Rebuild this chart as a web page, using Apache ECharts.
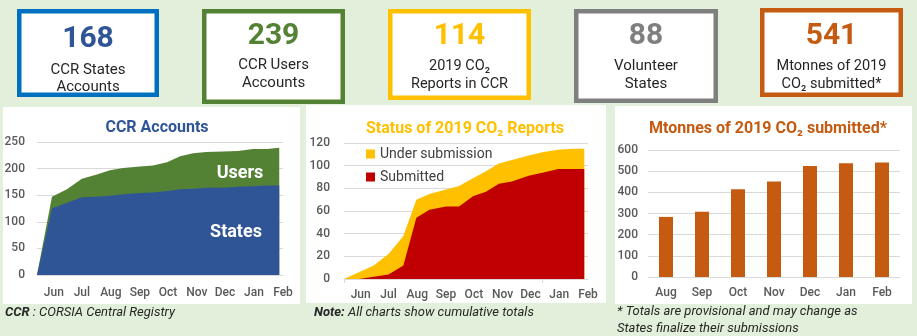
<!DOCTYPE html>
<html><head><meta charset="utf-8">
<script src="https://cdn.jsdelivr.net/npm/echarts@6/dist/echarts.min.js"></script>
<style>html,body{margin:0;padding:0;background:#e2efda}#c{width:917px;height:336px}</style>
</head><body><div id="c"></div>
<script>
// ---- data ----
const kpiValues = ['168', '239', '114', '88', '541'];
const kpiLine1 = ['CCR States', 'CCR Users', '2019 CO\u2082', 'Volunteer', 'Mtonnes of 2019'];
const kpiLine2 = ['Accounts', 'Accounts', 'Reports in CCR', 'States', 'CO\u2082 submitted*'];

const dates = ['2020-05-14','2020-05-30','2020-06-15','2020-07-01','2020-07-17','2020-07-31','2020-08-14',
  '2020-09-01','2020-09-15','2020-09-30','2020-10-14','2020-10-28','2020-11-11','2020-11-29',
  '2020-12-15','2020-12-31','2021-01-15','2021-01-28'];
const usersAccounts  = [0,147,161,181,189,197,201,204,206,212,223,229,231,232,233,237,237,239];
const statesAccounts = [0,125,136,146,147,149,152,154,155,158,161,162,164,164,166,167,168,168];
const underSubmission = [0,6,12,22,38,70,75,79,82,89,95,102,105,109,112,114,115,115];
const submitted       = [0,0,2,4,12,54,61,64,64,73,77,84,86,91,94,97,97,97];

const monthTicks = ['2020-06-01','2020-07-01','2020-08-01','2020-09-01','2020-10-01','2020-11-01','2020-12-01','2021-01-01','2021-02-01'];
const monthNames = ['Jan','Feb','Mar','Apr','May','Jun','Jul','Aug','Sep','Oct','Nov','Dec'];
const axisStart = '2020-05-14', axisEnd = '2021-02-01';
const reportTicks = ['2020-05-14','2020-12-14'];

const barMonths = ['Aug','Sep','Oct','Nov','Dec','Jan','Feb'];
const mtonnes = [284, 308, 415, 451, 525, 537, 541];

// ---- chart ----
const DAY = 86400000;
const ts = s => { const [y,m,d] = s.split('-').map(Number); return Date.UTC(y, m-1, d) / DAY; };
const pairs = (xs, ys) => xs.map((x,i)=>[ts(x), ys[i]]);
const FONT = 'Roboto';
const labelStyle = {color:'#595959', fontSize:12, fontWeight:500, fontFamily:FONT};
const grid = '#d9d9d9';

function timeAxis(gi, ticks, margin){
  return {type:'value', gridIndex:gi, min:ts(axisStart), max:ts(axisEnd),
    axisLine:{show:true, onZero:false, lineStyle:{color:grid}},
    axisTick: ticks ? {show:true, customValues:ticks.map(ts), length:4, lineStyle:{color:grid}} : {show:false},
    splitLine:{show:false},
    axisLabel:Object.assign({customValues:monthTicks.map(ts), margin:margin, hideOverlap:false,
      formatter:v=>monthNames[new Date(Math.round(v)*DAY).getUTCMonth()]}, labelStyle)};
}
function valAxis(gi, max, interval, margin){
  return {type:'value', gridIndex:gi, min:0, max:max, interval:interval,
    axisLine:{show:false}, axisTick:{show:false},
    splitLine:{lineStyle:{color:grid, width:1}},
    axisLabel:Object.assign({margin:margin}, labelStyle)};
}

const boxes = [
  {x:17, y:9, w:142, h:88, c:'#0070c0', nc:'#2f5597', ny:39, l1:70, l2:87, fs:15},
  {x:202, y:9, w:143, h:95, c:'#548235', nc:'#548235', ny:36, l1:65, l2:83, fs:15},
  {x:388, y:9, w:143, h:91, c:'#ffc000', nc:'#ffc000', ny:36, l1:66, l2:84, fs:14.5},
  {x:574, y:9, w:144, h:94, c:'#7f7f7f', nc:'#7f7f7f', ny:36, l1:66, l2:84, fs:15},
  {x:760, y:8, w:143, h:89, c:'#c55a11', nc:'#c55a11', ny:36, l1:66, l2:84, fs:14.5}
];
const graphic = [];
// panels
[[3,107,297,197],[306,105,300,198],[615,106,297,198]].forEach(p=>{
  graphic.push({type:'rect', z:-10, shape:{x:p[0], y:p[1], width:p[2], height:p[3]}, style:{fill:'#ffffff'}, silent:true});
});
boxes.forEach((b,i)=>{
  const lw = 4.5;
  graphic.push({type:'rect', shape:{x:b.x+lw/2, y:b.y+lw/2, width:b.w-lw, height:b.h-lw},
    style:{fill:'#ffffff', stroke:b.c, lineWidth:lw}, silent:true});
  const cx = b.x + b.w/2;
  graphic.push({type:'text', x:cx, y:b.ny, style:{text:kpiValues[i], align:'center', verticalAlign:'middle',
    fontSize:30, fontWeight:'bold', fontFamily:FONT, fill:b.nc}, silent:true});
  graphic.push({type:'text', x:cx, y:b.l1, style:{text:kpiLine1[i], align:'center', verticalAlign:'middle',
    fontSize:b.fs, fontFamily:FONT, fill:'#262626'}, silent:true});
  graphic.push({type:'text', x:cx, y:b.l2, style:{text:kpiLine2[i], align:'center', verticalAlign:'middle',
    fontSize:b.fs, fontFamily:FONT, fill:'#262626'}, silent:true});
});
// in-chart labels
graphic.push({type:'text', x:240, y:173, z:10, style:{text:'Users', align:'center', verticalAlign:'middle', fontSize:18, fontWeight:'bold', fontFamily:FONT, fill:'#ffffff'}, silent:true});
graphic.push({type:'text', x:236, y:232, z:10, style:{text:'States', align:'center', verticalAlign:'middle', fontSize:18, fontWeight:'bold', fontFamily:FONT, fill:'#ffffff'}, silent:true});
// footnotes
const richB = {b:{fontWeight:'bold', fontStyle:'italic', fontSize:13, fontFamily:FONT, fill:'#262626'}};
graphic.push({type:'text', x:5, y:313, style:{text:'{b|CCR} : CORSIA Central Registry', verticalAlign:'middle', fontSize:13, fontStyle:'italic', fontFamily:FONT, fill:'#262626', rich:richB}, silent:true});
graphic.push({type:'text', x:314, y:313, style:{text:'{b|Note:} All charts show cumulative totals', verticalAlign:'middle', fontSize:13, fontStyle:'italic', fontFamily:FONT, fill:'#262626', rich:richB}, silent:true});
graphic.push({type:'text', x:617, y:312, style:{text:'* Totals are provisional and may change as', verticalAlign:'middle', fontSize:13, fontStyle:'italic', fontFamily:FONT, fill:'#262626'}, silent:true});
graphic.push({type:'text', x:617, y:329, style:{text:'States finalize their submissions', verticalAlign:'middle', fontSize:13, fontStyle:'italic', fontFamily:FONT, fill:'#262626'}, silent:true});

const titleStyle = (c)=>({fontSize:16, fontWeight:'bold', fontFamily:FONT, color:c});
const option = {
  animation:false,
  backgroundColor:'#e2efda',
  textStyle:{fontFamily:FONT},
  title:[
    {text:'CCR Accounts', left:152, top:115, textAlign:'center', textStyle:titleStyle('#2f5597')},
    {text:'Status of 2019 CO\u2082 Reports', left:460, top:116, textAlign:'center', textStyle:titleStyle('#ffc000')},
    {text:'Mtonnes of 2019 CO\u2082 submitted*', left:763, top:116, textAlign:'center', textStyle:titleStyle('#c55a11')}
  ],
  legend:{data:['Under submission','Submitted'], orient:'vertical', left:361, top:142, icon:'rect',
    itemWidth:9, itemHeight:9, itemGap:9, selectedMode:false,
    textStyle:{color:'#404040', fontSize:14, fontFamily:FONT, lineHeight:14}},
  grid:[
    {left:37, right:634, top:142, bottom:61},
    {left:344, right:329, top:143, bottom:57},
    {left:648, right:17, top:150, bottom:59}
  ],
  xAxis:[
    timeAxis(0, null, 12),
    timeAxis(1, reportTicks, 10),
    {type:'category', gridIndex:2, data:barMonths, axisLine:{lineStyle:{color:grid}}, axisTick:{show:false},
      axisLabel:Object.assign({margin:10}, labelStyle)}
  ],
  yAxis:[ valAxis(0, 250, 50, 12), valAxis(1, 120, 20, 14), valAxis(2, 600, 100, 10) ],
  series:[
    {name:'Users', type:'line', xAxisIndex:0, yAxisIndex:0, data:pairs(dates, usersAccounts), showSymbol:false,
      lineStyle:{width:0}, itemStyle:{color:'#548235'}, areaStyle:{color:'#548235', opacity:1}, silent:true},
    {name:'States', type:'line', xAxisIndex:0, yAxisIndex:0, data:pairs(dates, statesAccounts), showSymbol:false,
      lineStyle:{width:0}, itemStyle:{color:'#2f5597'}, areaStyle:{color:'#2f5597', opacity:1}, silent:true},
    {name:'Under submission', type:'line', xAxisIndex:1, yAxisIndex:1, data:pairs(dates, underSubmission), showSymbol:false,
      lineStyle:{width:0}, itemStyle:{color:'#ffc000'}, areaStyle:{color:'#ffc000', opacity:1}, silent:true},
    {name:'Submitted', type:'line', xAxisIndex:1, yAxisIndex:1, data:pairs(dates, submitted), showSymbol:false,
      lineStyle:{width:0}, itemStyle:{color:'#c00000'}, areaStyle:{color:'#c00000', opacity:1}, silent:true},
    {name:'Mtonnes', type:'bar', xAxisIndex:2, yAxisIndex:2, data:mtonnes, barWidth:14,
      itemStyle:{color:'#c55a11'}, silent:true}
  ],
  graphic:graphic
};
const chart = echarts.init(document.getElementById('c'), null, {renderer:'canvas'});
chart.setOption(option);
</script></body></html>
